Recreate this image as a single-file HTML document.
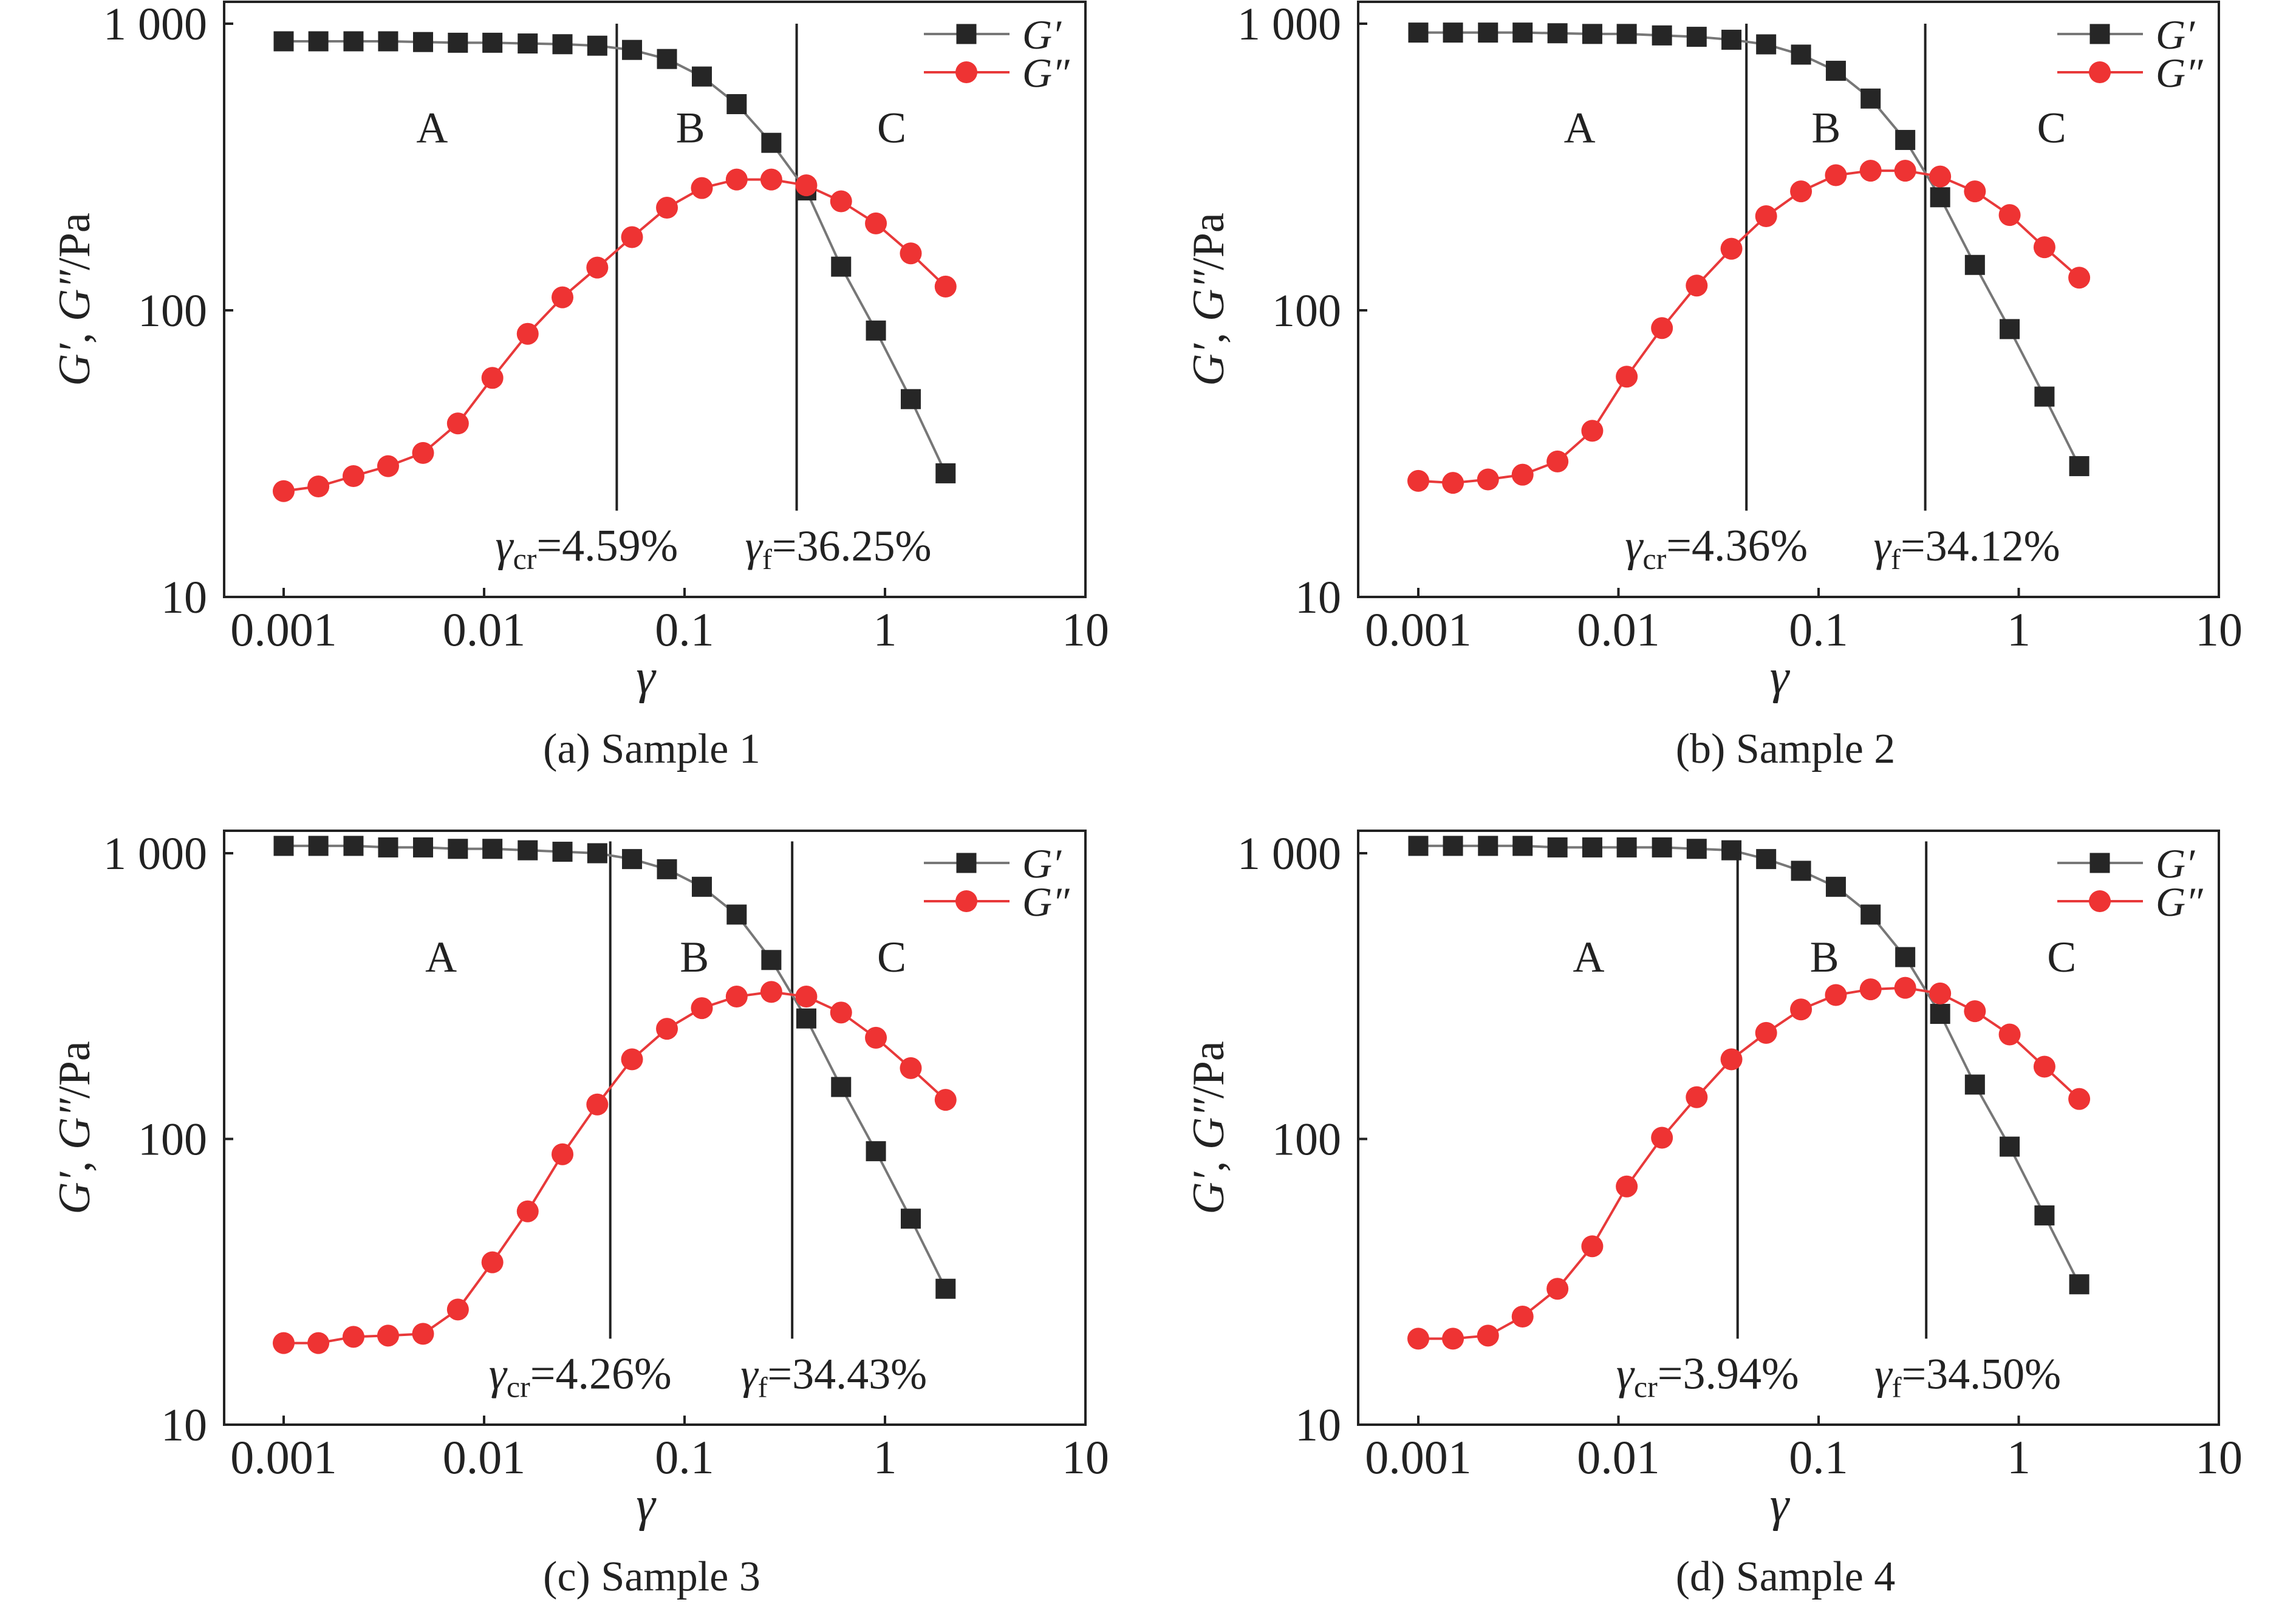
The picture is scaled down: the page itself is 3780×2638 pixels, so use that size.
<!DOCTYPE html>
<html><head><meta charset="utf-8"><style>
html,body{margin:0;padding:0;background:#fff}
svg{display:block}
text{font-family:"Liberation Serif",serif;fill:#222}
</style></head><body>
<svg id="chart" width="3780" height="2638" viewBox="0 0 3780 2638" xmlns="http://www.w3.org/2000/svg"></svg>
<script>
const strain = [0.001,0.00149,0.00223,0.00332,0.00496,0.0074,0.011,0.0165,0.0246,0.0367,0.0547,0.0817,0.122,0.182,0.271,0.405,0.604,0.901,1.345,2.006];
const gp1 = [868,868,868,868,863,858,858,853,848,838,810,753,654,524,384,262,142,85,49,27];
const gpp1 = [23.4,24.3,26.4,28.6,31.8,40.3,58.1,82.8,111,141,180,228,267,286,286,273,240,201,158,121];
const gp2 = [931,931,931,931,926,921,921,910,900,879,847,780,685,548,393,248,144,86,50,28.6];
const gpp2 = [25.4,25.0,25.7,26.7,29.7,38,58.7,86.7,122,164,213,260,296,307,307,293,260,215,166,130];
const gp3 = [1061,1061,1061,1048,1048,1036,1036,1024,1012,1000,954,879,763,610,423,264,152,90.6,52.6,29.9];
const gpp3 = [19.3,19.3,20.3,20.5,20.8,25.3,37,55.8,88.4,132,190,243,287,315,327,315,277,226,177,137];
const gp4 = [1061,1061,1061,1061,1048,1048,1048,1048,1036,1024,954,868,763,610,433,274,155,94,54,31];
const gpp4 = [20.0,20.0,20.5,23.9,29.9,42.1,68.2,101,140,190,235,284,319,334,338,323,280,232,179,138];
const gammaCr = [0.0459,0.0436,0.0426,0.0394];
const gammaF = [0.3625,0.3412,0.3443,0.345];
const crLabels = ["4.59%","4.36%","4.26%","3.94%"];
const fLabels = ["36.25%","34.12%","34.43%","34.50%"];
const captions = ["(a) Sample 1","(b) Sample 2","(c) Sample 3","(d) Sample 4"];
const xTicks = [0.001,0.01,0.1,1,10];
const xTickLabels = ["0.001","0.01","0.1","1","10"];
const yTicks = [10,100,1000];
const yTickLabels = ["10","100","1 000"];
const regionLabels = ["A","B","C"];
const regionX = [[0.0055,0.107,1.08],[0.0064,0.109,1.46],[0.0061,0.112,1.08],[0.0071,0.107,1.64]];

const NS="http://www.w3.org/2000/svg";
const svg=document.getElementById('chart');
function mk(tag,attrs,parent){const e=document.createElementNS(NS,tag);for(const k in attrs)e.setAttribute(k,attrs[k]);(parent||svg).appendChild(e);return e;}

const panels=[
 {L:369,R:1787,T:3,B:983,x0:467,xd:330,y0:39,yd:472,gp:gp1,gpp:gpp1,lineTop:1000},
 {L:2236,R:3653,T:3,B:983,x0:2335,xd:329.5,y0:39,yd:472,gp:gp2,gpp:gpp2,lineTop:1000},
 {L:369,R:1787,T:1368,B:2346,x0:467,xd:330,y0:1405,yd:470.5,gp:gp3,gpp:gpp3,lineTop:1100},
 {L:2236,R:3653,T:1368,B:2346,x0:2335,xd:329.5,y0:1405,yd:470.5,gp:gp4,gpp:gpp4,lineTop:1100}
];

panels.forEach((p,i)=>{
 const X=v=>p.x0+(Math.log10(v)+3)*p.xd;
 const Y=v=>p.y0+(3-Math.log10(v))*p.yd;
 const g=mk('g',{});
 
 
 const frame=mk('rect',{x:p.L,y:p.T,width:p.R-p.L,height:p.B-p.T,fill:'none',stroke:'#222','stroke-width':4},g);
 
 
 xTicks.forEach((t,j)=>{
  const tk=mk('line',{x1:X(t),x2:X(t),y1:p.B,y2:p.B-15,stroke:'#222','stroke-width':4},g);
  
  
  const tl=mk('text',{x:X(t),y:p.B+80,'font-size':78,'text-anchor':'middle'},g);
  tl.textContent=xTickLabels[j];
  
  
 });
 yTicks.forEach((t,j)=>{
  const tk=mk('line',{x1:p.L,x2:p.L+15,y1:Y(t),y2:Y(t),stroke:'#222','stroke-width':4},g);
  
  
  const tl=mk('text',{x:p.L-28,y:Y(t)+26,'font-size':76,'text-anchor':'end'},g);
  tl.textContent=yTickLabels[j];
  
  
 });
 const cy=(p.T+p.B)/2;
 const yt=mk('text',{x:0,y:0,'font-size':74,'text-anchor':'middle',transform:`translate(${p.L-222},${cy}) rotate(-90)`},g);
 yt.innerHTML='<tspan font-style="italic">G′</tspan>, <tspan font-style="italic">G″</tspan>/Pa';
 
 
 const cx=(p.L+p.R)/2;
 const xt=mk('text',{x:cx-15,y:p.B+158,'font-size':80,'font-style':'italic','text-anchor':'middle'},g);
 xt.textContent='γ';
 
 
 const cap=mk('text',{x:cx-5,y:p.B+273,'font-size':70,'text-anchor':'middle'},g);
 cap.textContent=captions[i];
 
 
 [gammaCr[i],gammaF[i]].forEach(v=>{
  const l=mk('line',{x1:X(v),x2:X(v),y1:Y(p.lineTop),y2:Y(20),stroke:'#222','stroke-width':4},g);
  
  
 });
 regionLabels.forEach((r,j)=>{
  const t=mk('text',{x:X(regionX[i][j]),y:Y(437)+26,'font-size':72,'text-anchor':'middle'},g);
  t.textContent=r;
  
  
 });
 const ay=Y(15.2)+26;
 const a1=mk('text',{x:X(gammaCr[i])-200,y:ay,'font-size':74},g);
 a1.innerHTML='<tspan font-style="italic">γ</tspan><tspan font-size="50" dy="14">cr</tspan><tspan dy="-14">='+crLabels[i]+'</tspan>';
 
 
 const a2=mk('text',{x:X(gammaF[i])-85,y:ay,'font-size':72},g);
 a2.innerHTML='<tspan font-style="italic">γ</tspan><tspan font-size="48" dy="14">f</tspan><tspan dy="-14">='+fLabels[i]+'</tspan>';
 
 
 const ptsA=strain.map((s,k)=>X(s)+','+Y(p.gp[k])).join(' ');
 const la=mk('polyline',{points:ptsA,fill:'none',stroke:'#777','stroke-width':4},g);
 
 
 const ptsB=strain.map((s,k)=>X(s)+','+Y(p.gpp[k])).join(' ');
 const lb=mk('polyline',{points:ptsB,fill:'none',stroke:'#e8393a','stroke-width':4},g);
 
 
 strain.forEach((s,k)=>{
  const m=mk('rect',{x:X(s)-16.5,y:Y(p.gp[k])-16.5,width:33,height:33,fill:'#262626'},g);
  
  
 });
 strain.forEach((s,k)=>{
  const m=mk('circle',{cx:X(s),cy:Y(p.gpp[k]),r:18,fill:'#ee3333'},g);
  
  
 });
 const lx=p.R-266, ly1=p.T+53, ly2=ly1+63;
 const lg=mk('g',{},g);
 
 
 mk('line',{x1:lx,x2:lx+141,y1:ly1,y2:ly1,stroke:'#777','stroke-width':4},lg);
 mk('rect',{x:lx+70-16.5,y:ly1-16.5,width:33,height:33,fill:'#262626'},lg);
 const t1=mk('text',{x:lx+162,y:ly1+24,'font-size':68,'font-style':'italic'},lg);
 t1.textContent='G′';
 
 
 mk('line',{x1:lx,x2:lx+141,y1:ly2,y2:ly2,stroke:'#e8393a','stroke-width':4},lg);
 mk('circle',{cx:lx+70,cy:ly2,r:18,fill:'#ee3333'},lg);
 const t2=mk('text',{x:lx+162,y:ly2+24,'font-size':68,'font-style':'italic'},lg);
 t2.textContent='G″';
 
 
});
</script>
</body></html>
